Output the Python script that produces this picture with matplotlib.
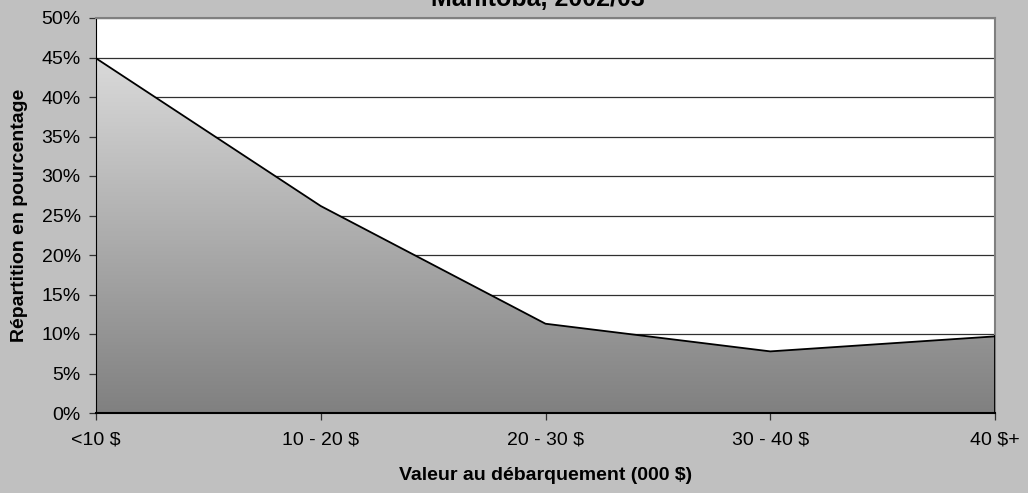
import numpy as np
import matplotlib.pyplot as plt
from matplotlib.colors import LinearSegmentedColormap

plt.rcParams['font.family'] = ['Liberation Sans', 'DejaVu Sans']

# share of vessels by landed value, Manitoba 2002/03
categories = ['<10 $', '10 - 20 $', '20 - 30 $', '30 - 40 $', '40 $+']
shares = [44.9, 26.2, 11.3, 7.8, 9.7]
y_ticks = [0, 5, 10, 15, 20, 25, 30, 35, 40, 45, 50]

bg = '#c0c0c0'
fig = plt.figure(figsize=(10.28, 4.93), dpi=100, facecolor=bg)
ax = fig.add_axes([96 / 1028, 1 - 413 / 493, 899 / 1028, 395 / 493])
ax.set_facecolor('white')

x = np.arange(len(categories))
ax.set_xlim(0, len(categories) - 1)
ax.set_ylim(0, 50)

# gradient fill clipped to the area under the line
fill = ax.fill_between(x, shares, 0, facecolor='none', edgecolor='none', zorder=2)
cmap = LinearSegmentedColormap.from_list('grey_grad', ['#808080', '#dadada'])
grad = np.linspace(0, 1, 256).reshape(-1, 1)
img = ax.imshow(grad, cmap=cmap, aspect='auto', origin='lower',
                extent=[0, len(categories) - 1, 0, max(shares)], zorder=2)
path = fill.get_paths()[0]
img.set_clip_path(path, transform=ax.transData)
ax.plot(x, shares, color='black', lw=1.3, zorder=3)
ax.plot([x[-1], x[-1]], [0, shares[-1]], color='black', lw=1.3, zorder=3)

for t in y_ticks[1:]:
    ax.axhline(t, color='#303030', lw=0.9, zorder=1)

ax.set_yticks(y_ticks)
ax.set_yticklabels([f'{t}%' for t in y_ticks], fontsize=14)
ax.set_xticks(x)
ax.set_xticklabels(categories, fontsize=14)
ax.tick_params(axis='both', direction='out', length=5, width=0.9, color='#303030')
ax.tick_params(axis='x', pad=8)
ax.tick_params(axis='y', pad=6)

ax.spines['left'].set_color('black')
ax.spines['bottom'].set_color('black')
ax.spines['bottom'].set_linewidth(1.5)
ax.spines['top'].set_color('#808080')
ax.spines['right'].set_color('#808080')
ax.spines['top'].set_linewidth(1.5)
ax.spines['right'].set_linewidth(1.5)

ax.set_xlabel('Valeur au débarquement (000 $)', fontsize=14, fontweight='bold', labelpad=14)
ax.set_ylabel('Répartition en pourcentage', fontsize=14, fontweight='bold', labelpad=10)
fig.text(538 / 1028, 1 - 6 / 493, 'Manitoba, 2002/03', ha='center', va='baseline',
         fontsize=18, fontweight='bold')

fig.savefig('out.png', dpi=100, facecolor=bg)
